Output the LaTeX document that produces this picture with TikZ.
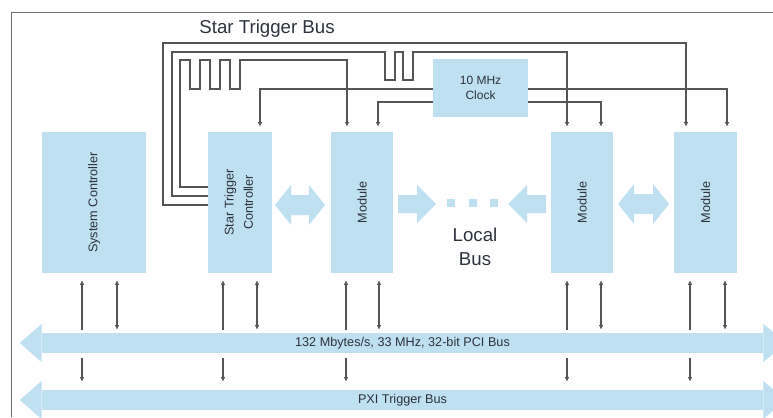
\documentclass[tikz,border=0pt]{standalone}
\usepackage{fontspec}
\setmainfont{Liberation Sans}
\usepackage{tikz}
\usetikzlibrary{
  arrows.meta,
  calc
}
\definecolor{busBlue}{RGB}{190, 224, 241}
\definecolor{wireGray}{RGB}{85, 85, 85}
\definecolor{frameGray}{RGB}{110, 110, 110}
\definecolor{labelInk}{RGB}{45, 50, 60}

\begin{document}
\begin{tikzpicture}[
    x=0.75pt, y=-0.75pt,
    box/.style={rectangle, fill=busBlue, inner sep=0pt, minimum height=105.75pt, text=labelInk, font=\fontsize{9.5}{12}\selectfont},
    bus/.style={rectangle, fill=busBlue, inner sep=0pt, minimum width=540.75pt, minimum height=15pt, text=labelInk, font=\fontsize{9.5}{12}\selectfont},
    wire/.style={draw=wireGray, line width=0.8pt},
    sig/.style={wire, -{Latex[length=3.5pt,width=3.5pt]}},
    toBox/.style={wire, {Latex[length=3.5pt,width=3.5pt]}-},
    both/.style={wire, {Latex[length=3.5pt,width=3.5pt]}-{Latex[length=3.5pt,width=3.5pt]}}
]
    \useasboundingbox (0,0) rectangle (773,417);

    % frame
    \draw[frameGray, line width=0.75pt] (11,417) -- (11,13) -- (773,13);

    \node[text=labelInk, font=\fontsize{14}{16}\selectfont] (starBus) at (267,29) {Star Trigger Bus};

    % chassis slots
    \node[box, minimum width=78pt] (sysctrl) at (94,202.5) {\rotatebox{90}{System Controller}};
    \node[box, minimum width=48pt] (stc) at (240,202.5) {\rotatebox{90}{\begin{tabular}{@{}c@{}}Star Trigger\\[2.5pt]Controller\end{tabular}}};
    \node[box, minimum width=46.5pt] (module1) at (362,202.5) {\rotatebox{90}{Module}};
    \node[box, minimum width=46.5pt] (module2) at (582,202.5) {\rotatebox{90}{Module}};
    \node[box, minimum width=47.25pt] (module3) at (705.5,202.5) {\rotatebox{90}{Module}};

    \node[box, minimum width=71.25pt, minimum height=43.5pt, align=center, font=\fontsize{9}{11.5}\selectfont] (clock) at (480.5,88) {10 MHz\\Clock};

    % star trigger lines
    \draw[sig] ($(stc.west)+(0,2.5)$) -| (163,43) -| ($(module3.north)+(-19.5,-5)$);
    \draw[sig] ($(stc.west)+(0,-6.5)$) -| (172,52) -- (385,52) -- (385,80) -- (395,80) -- (395,52)
        -- (403,52) -- (403,80) -- (413,80) -- (413,52) -| ($(module2.north)+(-15,-5)$);
    \draw[sig] ($(stc.west)+(0,-15.5)$) -| (180,60) -- (190,60) -- (190,89) -- (200,89) -- (200,60)
        -- (210,60) -- (210,89) -- (220,89) -- (220,60) -- (230,60) -- (230,89) -- (240,89) -- (240,60)
        -| ($(module1.north)+(-15,-5)$);

    % clock lines
    \draw[sig] ($(clock.west)+(0,1)$) -| ($(stc.north)+(20,-5)$);
    \draw[sig] ($(clock.west)+(0,14)$) -| ($(module1.north)+(16,-5)$);
    \draw[sig] ($(clock.east)+(0,14)$) -| ($(module2.north)+(19,-5)$);
    \draw[sig] ($(clock.east)+(0,1)$) -| ($(module3.north)+(21.5,-5)$);

    % local bus
    \fill[busBlue] (275,205) -- (291,185) -- (291,195) -- (309,195) -- (309,185) -- (325,205)
        -- (309,225) -- (309,215) -- (291,215) -- (291,225) -- cycle;
    \fill[busBlue] (398,195) -- (417,195) -- (417,185) -- (436,204) -- (417,223) -- (417,213) -- (398,213) -- cycle;
    \foreach \x in {451,473,494}
        \fill[busBlue] (\x-4,199) rectangle (\x+4,207);
    \fill[busBlue] (546,195) -- (527,195) -- (527,185) -- (508,204) -- (527,223) -- (527,213) -- (546,213) -- cycle;
    \fill[busBlue] (618,204) -- (634,184) -- (634,194) -- (653,194) -- (653,184) -- (669,204)
        -- (653,224) -- (653,214) -- (634,214) -- (634,224) -- cycle;
    \node[text=labelInk, align=center, font=\fontsize{14}{18}\selectfont] (localBus) at (475,247) {Local\\Bus};

    % backplane buses
    \node[bus] (pci) at (402.5,343) {132 Mbytes/s, 33 MHz, 32-bit PCI Bus};
    \node[bus] (pxi) at (402.5,400) {PXI Trigger Bus};
    \foreach \b in {pci, pxi} {
        \fill[busBlue] (\b.north west) -- ++(0,-9) -- ($(\b.west)+(-22,0)$) -- ($(\b.south west)+(0,9)$) -- (\b.south west) -- cycle;
        \fill[busBlue] (\b.north east) -- ++(0,-9) -- ($(\b.east)+(22,0)$) -- ($(\b.south east)+(0,9)$) -- (\b.south east) -- cycle;
    }

    % slot connections
    \foreach \b/\l/\r in {sysctrl/-12/23, stc/-17/17, module1/-16/17, module2/-15/19, module3/-15.5/19.5} {
        \draw[toBox] ($(\b.south)+(\l,7)$) -- ($(\b.south |- pci.north)+(\l,-3)$);
        \draw[both] ($(\b.south)+(\r,7)$) -- ($(\b.south |- pci.north)+(\r,-3)$);
        \draw[sig] ($(\b.south |- pci.south)+(\l,5)$) -- ($(\b.south |- pxi.north)+(\l,-8)$);
    }

\end{tikzpicture}
\end{document}
